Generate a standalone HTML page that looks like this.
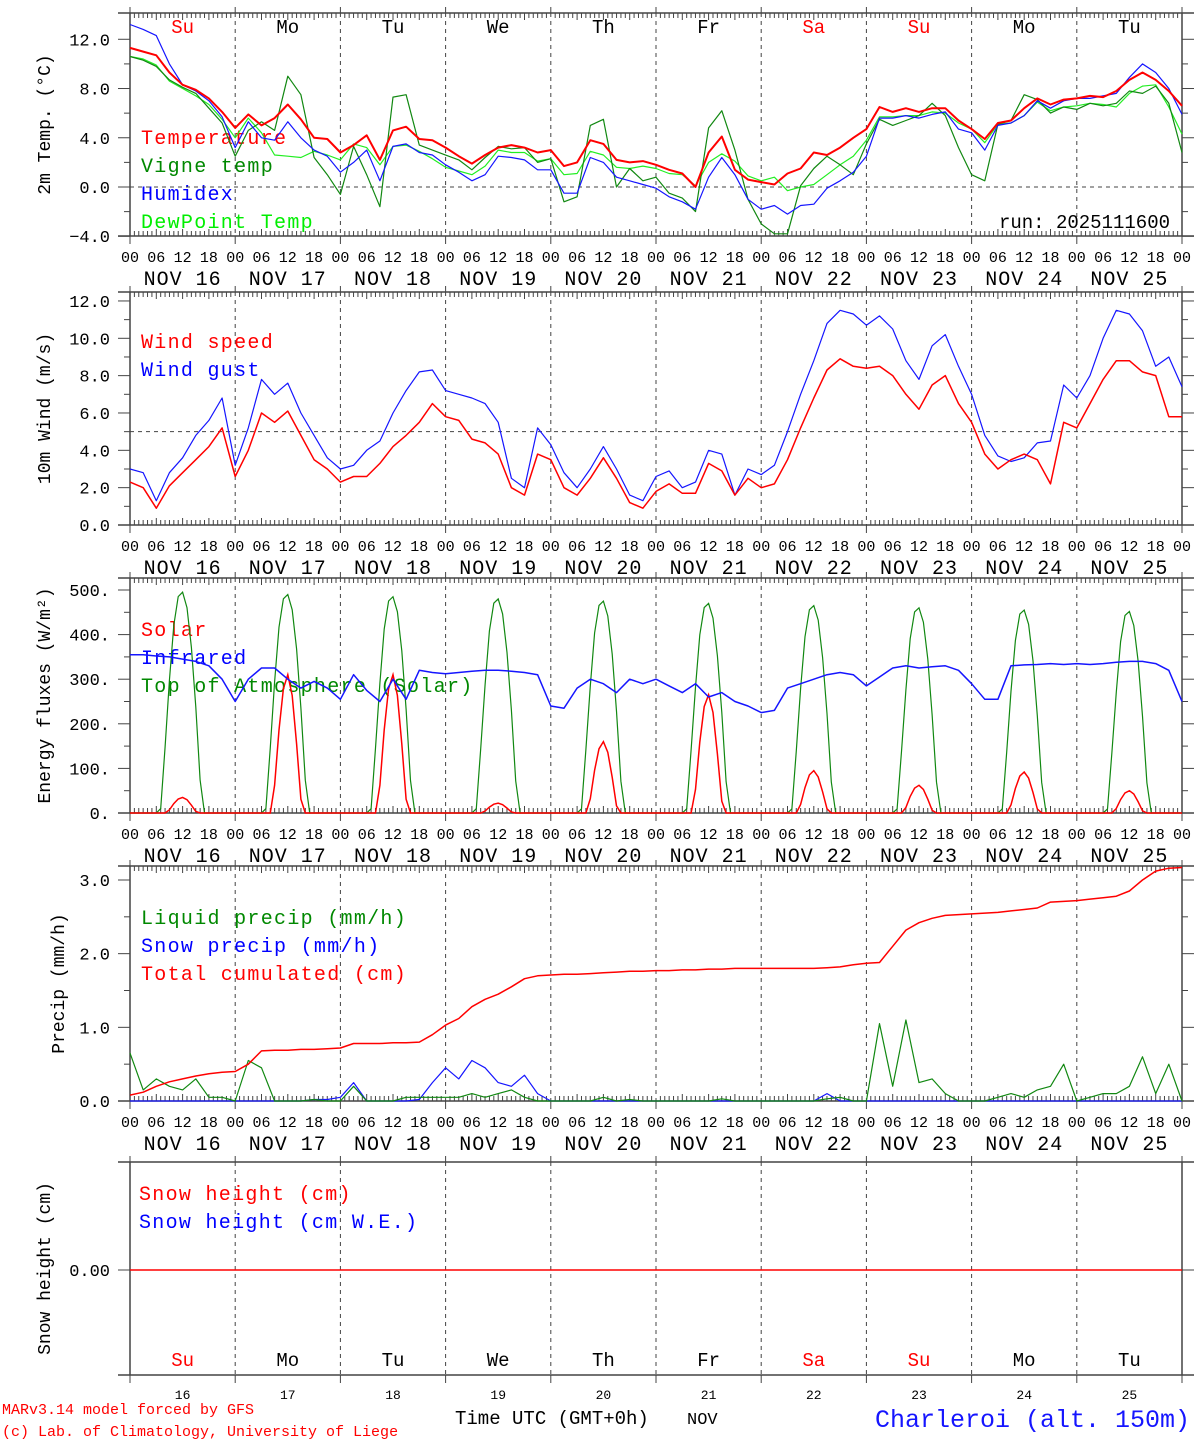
<!DOCTYPE html>
<html><head><meta charset="utf-8"><style>
html,body{margin:0;padding:0;background:#fff;}
svg{display:block;font-family:"Liberation Mono",monospace;}
</style></head><body>
<svg id="chart" width="1194" height="1440" viewBox="0 0 1194 1440" xmlns="http://www.w3.org/2000/svg"></svg>
<script>
// ---------- DATA (3-hourly, h = 0..240) ----------
const tempRed=[11.3,11.0,10.7,9.3,8.3,7.9,7.2,6.1, 4.8,5.9,5.0,5.6,6.7,5.5,4.0,3.9, 2.8,3.4,4.2,2.2,4.6,4.9,3.9,3.8, 3.2,2.5,1.9,2.6,3.2,3.4,3.2,2.8, 3.0,1.7,2.0,3.8,3.5,2.2,2.0,2.1, 1.8,1.4,1.1,0.0,2.8,4.1,1.4,0.6, 0.4,0.2,1.1,1.5,2.8,2.6,3.2,4.0, 4.7,6.5,6.1,6.4,6.1,6.4,6.4,5.4, 4.7,3.9,5.2,5.4,6.4,7.2,6.7,7.1, 7.2,7.4,7.3,7.8,8.7,9.3,8.7,7.8, 6.6];
const humidex=[13.2,12.8,12.3,10.0,8.3,7.8,7.0,5.7, 3.2,5.3,4.0,3.8,5.3,4.0,3.0,2.5, 1.2,2.0,3.0,0.5,3.3,3.5,2.8,2.6, 1.8,1.2,0.5,1.0,2.5,2.4,2.2,1.4, 1.4,-0.5,-0.5,2.4,2.0,0.8,0.5,0.2, -0.1,-0.8,-1.2,-1.8,0.8,2.4,1.0,-1.0, -1.8,-1.5,-2.2,-1.5,-1.4,-0.1,0.5,1.2, 2.5,5.6,5.6,5.8,5.6,5.9,6.1,4.7, 4.4,3.0,5.0,5.2,5.8,7.0,6.4,7.0, 7.2,7.2,7.4,7.6,8.9,10.0,9.3,8.0, 5.9];
const vigne=[10.6,10.3,9.8,8.7,8.1,7.6,6.4,5.2, 2.5,4.6,5.3,4.6,9.0,7.5,2.4,1.0, -0.6,3.3,1.0,-1.6,7.3,7.5,3.4,3.0, 2.6,2.2,1.4,2.4,3.3,3.1,3.2,2.0, 2.3,-1.2,-0.8,5.0,5.5,0.0,1.5,0.5, 0.8,-0.5,-0.9,-2.0,4.8,6.2,3.0,-1.0, -3.0,-3.8,-3.8,0.1,1.5,2.5,1.8,1.0, 3.5,5.5,5.0,5.4,5.8,6.8,5.8,3.2, 1.0,0.5,5.1,5.4,7.5,7.1,6.0,6.5, 6.3,6.8,6.6,6.8,7.8,7.6,8.2,6.8, 2.8];
const dewpoint=[10.6,10.4,9.9,8.6,8.0,7.4,6.7,5.5, 4.0,5.6,4.4,2.6,2.5,2.4,2.9,2.6, 2.2,3.5,3.2,1.8,3.3,3.4,2.9,2.3, 1.6,1.3,1.0,1.7,3.0,2.8,2.8,2.1, 2.3,1.0,1.1,2.9,2.6,1.6,1.5,1.7, 1.5,1.1,1.0,0.1,2.0,2.7,2.1,0.9, 0.5,0.8,-0.3,0.0,0.2,1.0,1.8,2.5, 3.8,5.7,5.7,5.8,5.8,6.1,6.0,5.2, 4.7,3.6,5.1,5.2,5.8,6.9,6.2,6.5, 6.6,6.8,6.7,6.5,7.6,8.2,8.3,6.5, 4.3];
const windSpeed=[2.3,2.0,0.9,2.1,2.8,3.5,4.2,5.2, 2.6,4.0,6.0,5.5,6.1,4.8,3.5,3.0, 2.3,2.6,2.6,3.3,4.2,4.8,5.5,6.5, 5.8,5.6,4.6,4.4,3.8,2.0,1.6,3.8, 3.5,2.0,1.6,2.5,3.6,2.5,1.2,0.9, 1.8,2.2,1.7,1.7,3.3,2.9,1.6,2.5, 2.0,2.2,3.5,5.2,6.8,8.3,8.9,8.5, 8.4,8.5,8.0,7.0,6.2,7.5,8.0,6.5, 5.5,3.8,3.0,3.5,3.8,3.5,2.2,5.5, 5.2,6.5,7.8,8.8,8.8,8.2,8.0,5.8, 5.8];
const windGust=[3.0,2.8,1.3,2.8,3.6,4.8,5.6,6.8, 3.2,5.2,7.8,7.0,7.6,6.0,4.8,3.6, 3.0,3.2,4.0,4.5,6.0,7.2,8.2,8.3, 7.2,7.0,6.8,6.5,5.5,2.5,2.0,5.2, 4.3,2.8,2.0,3.0,4.2,3.0,1.6,1.3, 2.6,2.9,2.0,2.3,4.0,3.8,1.6,3.0, 2.7,3.2,5.0,7.0,8.8,10.8,11.5,11.3, 10.7,11.2,10.5,8.8,7.8,9.6,10.2,8.5, 7.0,4.8,3.7,3.4,3.6,4.4,4.5,7.5, 6.8,8.0,10.0,11.5,11.3,10.4,8.5,9.0, 7.4];
const infrared=[355,355,352,350,345,340,330,300, 250,300,325,325,300,280,295,280, 255,310,275,250,300,255,320,315, 312,315,318,320,320,318,315,310, 240,235,280,300,290,270,300,290, 300,285,270,290,260,270,250,240, 225,230,280,290,300,310,315,310, 285,305,325,330,325,328,330,320, 290,255,255,330,332,333,335,333, 335,333,335,338,340,340,335,320, 250];
// daily peaks (W/m2) and hour-of-day shape (fraction of peak)
const toaPeak=[495,490,485,480,475,470,465,460,455,452];
const solarPeak=[35,310,310,22,160,265,95,62,92,50];
const toaShape=[0,0,0,0,0,0,0,0.02,0.3,0.6,0.85,0.98,1.0,0.93,0.75,0.48,0.15,0,0,0,0,0,0,0];
const solarShape=[0,0,0,0,0,0,0,0,0,0.2,0.6,0.9,1.0,0.85,0.5,0.1,0,0,0,0,0,0,0,0];
const precipTotal=[0.08,0.12,0.2,0.26,0.3,0.34,0.37,0.39, 0.4,0.5,0.68,0.69,0.69,0.7,0.7,0.71, 0.72,0.78,0.78,0.78,0.79,0.79,0.8,0.9, 1.03,1.12,1.28,1.38,1.45,1.55,1.66,1.7, 1.71,1.72,1.72,1.73,1.74,1.75,1.76,1.76, 1.77,1.77,1.78,1.78,1.79,1.79,1.8,1.8, 1.8,1.8,1.8,1.8,1.8,1.81,1.82,1.85, 1.87,1.88,2.1,2.32,2.42,2.48,2.52,2.53, 2.54,2.55,2.56,2.58,2.6,2.62,2.7,2.71, 2.72,2.74,2.76,2.78,2.85,3.0,3.12,3.16, 3.17];
const liquidPrecip=[0.65,0.15,0.3,0.2,0.15,0.3,0.05,0.05, 0.0,0.55,0.45,0.0,0.0,0.0,0.02,0.0, 0.0,0.2,0.0,0.0,0.0,0.05,0.05,0.05, 0.05,0.05,0.1,0.05,0.1,0.15,0.05,0.0, 0,0,0,0,0.05,0,0.02,0, 0,0,0,0,0,0.03,0,0, 0,0,0,0,0,0.03,0.05,0, 0.0,1.05,0.2,1.1,0.25,0.3,0.1,0.0, 0.0,0.0,0.05,0.1,0.05,0.15,0.2,0.5, 0.0,0.05,0.1,0.1,0.2,0.6,0.1,0.5, 0.0];
const snowPrecip=[0,0,0,0,0,0,0,0, 0,0,0,0,0,0,0.02,0.02, 0.05,0.25,0,0,0,0,0.02,0.25, 0.45,0.3,0.55,0.45,0.25,0.2,0.35,0.1, 0,0,0,0,0,0,0,0, 0,0,0,0,0,0,0,0, 0,0,0,0,0,0.1,0,0, 0,0,0,0,0,0,0,0, 0,0,0,0,0,0,0,0, 0,0,0,0,0,0,0,0, 0];
const snowHeight=[0,0,0,0,0,0,0,0,0,0,0];
const dayNames=["Su","Mo","Tu","We","Th","Fr","Sa","Su","Mo","Tu"];
const dayDates=["16","17","18","19","20","21","22","23","24","25"];
const hourLabels=["00","06","12","18"];

// ---------- DRAWING ----------
const NS="http://www.w3.org/2000/svg";
const svg=document.getElementById('chart');
const X0=130,X1=1182;
function xs(h){return X0+h*(X1-X0)/240;}
function mk(tag,attrs,name,parent){
  const el=document.createElementNS(NS,tag);
  for(const k in attrs) el.setAttribute(k,attrs[k]);
  
  
  (parent||svg).appendChild(el);
  return el;
}
function txt(x,y,s,size,fill,name,extra){
  const a={x:x,y:y,'font-size':size,fill:fill};
  if(extra) for(const k in extra) a[k]=extra[k];
  const t=mk('text',a,name);
  t.textContent=s;
  return t;
}
function line(x1,y1,x2,y2,stroke,w,name,dash){
  const a={x1:x1,y1:y1,x2:x2,y2:y2,stroke:stroke,'stroke-width':w||1};
  if(dash) a['stroke-dasharray']=dash;
  return mk('line',a,name);
}
function series(arr,step,ys,color,w,name){
  let d='';
  for(let i=0;i<arr.length;i++){d+=(i?'L':'M')+xs(i*step).toFixed(1)+' '+ys(arr[i]).toFixed(1);}
  return mk('path',{d:d,fill:'none',stroke:color,'stroke-width':w,'stroke-linejoin':'round'},name);
}
function panel(p){
  const g=p;
  line(118,g.top,1194,g.top,'#444',1.5,g.id+'-top-border');
  line(118,g.bottom,1194,g.bottom,'#444',1.5,g.id+'-bottom-border');
  line(X0,g.top,X0,g.bottom,'#444',1.5,g.id+'-left-axis');
  line(X1,g.top,X1,g.bottom,'#444',1.5,g.id+'-right-axis');
  for(let d=1;d<10;d++) line(xs(d*24),g.top,xs(d*24),g.bottom,'#444',1,g.id+'-day-line','4,4');
  for(let d=0;d<=10;d++){line(xs(d*24),g.top-6,xs(d*24),g.top,'#444',1,g.id+'-day-tick');line(xs(d*24),g.bottom,xs(d*24),g.bottom+8,'#444',1,g.id+'-day-tick');}
  if(g.hourly){
    for(let h=1;h<240;h++){ if(h%24===0) continue; const L=(h%6===0)?7:5;
      line(xs(h),g.bottom-L,xs(h),g.bottom,'#444',1,g.id+'-hour-tick');
      line(xs(h),g.top,xs(h),g.top+L,'#444',1,g.id+'-hour-tick');}
    for(let d=0;d<10;d++){
      for(let k=0;k<4;k++) txt(xs(d*24+k*6),g.bottom+26,hourLabels[k],15,'#000',g.id+'-hour-label',{'text-anchor':'middle'});
      txt(xs(d*24+12),g.bottom+49,'NOV '+dayDates[d],20,'#000',g.id+'-date-label',{'text-anchor':'middle','letter-spacing':'1'});
    }
    txt(xs(240),g.bottom+26,'00',15,'#000',g.id+'-hour-label',{'text-anchor':'middle'});
  }
  g.labels.forEach(function(v,i){const y=g.ys(v);
    line(118,y,X0,y,'#444',1,g.id+'-y-tick'); line(X1,y,1194,y,'#444',1,g.id+'-y-tick-right');
    txt(110,y+6,g.labelText[i],17,'#000',g.id+'-y-tick-label',{'text-anchor':'end'});});
  (g.minors||[]).forEach(function(v){const y=g.ys(v);
    line(124,y,X0,y,'#444',1,g.id+'-y-minor'); line(X1,y,1188,y,'#444',1,g.id+'-y-minor-right');});
  txt(0,0,g.title,18,'#000',g.id+'-y-axis-title',{'text-anchor':'middle',transform:'translate('+g.tx+','+((g.top+g.bottom)/2)+') rotate(-90)'});
  g.legend.forEach(function(l,i){txt(g.lx||141,g.ly+i*28,l[0],20,l[1],g.id+'-legend-entry',{'letter-spacing':'1.3'});});
}
// Panel 1: temperature
const P1={id:'temp',top:13,bottom:236,ys:function(v){return 187-v*12.31;},hourly:true,
  labels:[12,8,4,0,-4],labelText:['12.0','8.0','4.0','0.0','−4.0'],minors:[10,6,2,-2],title:'2m Temp. (°C)',tx:50,
  legend:[['Temperature','#f00'],['Vigne temp','#080'],['Humidex','#00f'],['DewPoint Temp','#0e0']],ly:144};
panel(P1);
line(X0,P1.ys(0),X1,P1.ys(0),'#444',1,'temp-zero-line','4,4');
series(dewpoint,3,P1.ys,'#22ee22',1.2,'dewpoint-line');
series(vigne,3,P1.ys,'#118811',1.2,'vigne-temp-line');
series(humidex,3,P1.ys,'#1515ff',1.2,'humidex-line');
series(tempRed,3,P1.ys,'#ff0000',2,'temperature-line');
txt(1170,228,'run: 2025111600',19,'#000','run-label',{'text-anchor':'end'});
for(let d=0;d<10;d++) txt(xs(d*24+12),33,dayNames[d],19,(d===0||d===6||d===7)?'#f00':'#000','top-day-label',{'text-anchor':'middle'});

// Panel 2: wind
const P2={id:'wind',top:292,bottom:525,ys:function(v){return 525-v*18.67;},hourly:true,
  labels:[0,2,4,6,8,10,12],labelText:['0.0','2.0','4.0','6.0','8.0','10.0','12.0'],minors:[1,3,5,7,9,11],title:'10m Wind (m/s)',tx:50,
  legend:[['Wind speed','#f00'],['Wind gust','#00f']],ly:348};
panel(P2);
line(X0,P2.ys(5),X1,P2.ys(5),'#444',1,'wind-threshold-line','4,4');
series(windGust,3,P2.ys,'#1515ff',1.2,'wind-gust-line');
series(windSpeed,3,P2.ys,'#ff0000',1.5,'wind-speed-line');

// Panel 3: energy
const P3={id:'energy',top:578,bottom:813,ys:function(v){return 813-v*0.446;},hourly:true,
  labels:[0,100,200,300,400,500],labelText:['0.','100.','200.','300.','400.','500.'],minors:[50,150,250,350,450],title:'Energy fluxes (W/m²)',tx:50,
  legend:[['Solar','#f00'],['Infrared','#00f'],['Top of Atmosphere (Solar)','#080']],ly:636};
panel(P3);
(function(){
  let dT='',dS='';
  for(let h=0;h<=240;h++){const d=Math.min(9,Math.floor(h/24)),hd=h%24;
    dT+=(h?'L':'M')+xs(h).toFixed(1)+' '+P3.ys(toaPeak[d]*toaShape[hd]).toFixed(1);
    dS+=(h?'L':'M')+xs(h).toFixed(1)+' '+P3.ys(solarPeak[d]*solarShape[hd]).toFixed(1);}
  mk('path',{d:dT,fill:'none',stroke:'#118811','stroke-width':1.2},'toa-solar-line');
  mk('path',{d:dS,fill:'none',stroke:'#ff0000','stroke-width':1.5},'solar-line');
})();
series(infrared,3,P3.ys,'#1515ff',1.5,'infrared-line');

// Panel 4: precip
const P4={id:'precip',top:866,bottom:1101,ys:function(v){return 1101-v*73.67;},hourly:true,
  labels:[0,1,2,3],labelText:['0.0','1.0','2.0','3.0'],minors:[0.5,1.5,2.5],title:'Precip (mm/h)',tx:64,
  legend:[['Liquid precip (mm/h)','#080'],['Snow precip (mm/h)','#00f'],['Total cumulated (cm)','#f00']],ly:924};
panel(P4);
series(snowPrecip,3,P4.ys,'#1515ff',1.2,'snow-precip-line');
series(liquidPrecip,3,P4.ys,'#118811',1.2,'liquid-precip-line');
series(precipTotal,3,P4.ys,'#ff0000',1.5,'total-cumulated-line');

// Panel 5: snow
const P5={id:'snow',top:1162,bottom:1375,ys:function(v){return 1270-v*100;},hourly:false,
  labels:[0],labelText:['0.00'],minors:[],title:'Snow height (cm)',tx:50,
  legend:[['Snow height (cm)','#f00'],['Snow height (cm W.E.)','#00f']],ly:1200,lx:139};
panel(P5);
series(snowHeight,24,P5.ys,'#ff0000',1.5,'snow-height-line');
for(let d=0;d<10;d++){
  txt(xs(d*24+12),1366,dayNames[d],19,(d===0||d===6||d===7)?'#f00':'#000','bottom-day-label',{'text-anchor':'middle'});
  txt(xs(d*24+12),1399,dayDates[d],13,'#000','bottom-date-label',{'text-anchor':'middle'});
}
txt(2,1414,'MARv3.14 model forced by GFS',15,'#f00','model-credit');
txt(2,1436,'(c) Lab. of Climatology, University of Liege',15,'#f00','lab-credit');
txt(455,1424,'Time UTC (GMT+0h)',19,'#000','x-axis-title');
txt(687,1424,'NOV',17,'#000','x-axis-month');
txt(1190,1427,'Charleroi (alt. 150m)',25,'#1515ff','station-title',{'text-anchor':'end'});
</script>
</body></html>
